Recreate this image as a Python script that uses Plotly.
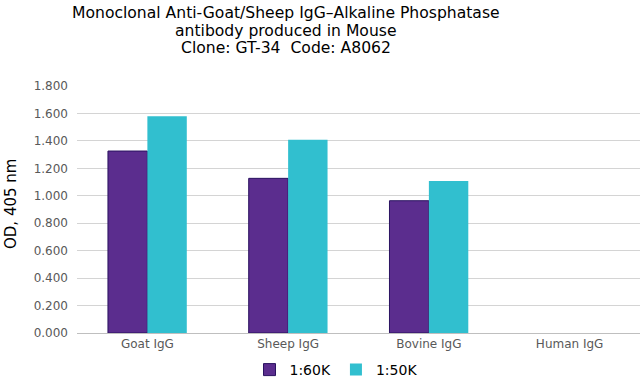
import plotly.graph_objects as go

categories = ["Goat IgG", "Sheep IgG", "Bovine IgG", "Human IgG"]
series_names = ["1:60K", "1:50K"]
values_60k = [1.326, 1.127, 0.964, 0.0]
values_50k = [1.580, 1.408, 1.108, 0.0]
y_ticks = [0, 0.2, 0.4, 0.6, 0.8, 1.0, 1.2, 1.4, 1.6, 1.8]
y_tick_labels = ["0.000", "0.200", "0.400", "0.600", "0.800", "1.000", "1.200", "1.400", "1.600", "1.800"]
title_lines = ["Monoclonal Anti-Goat/Sheep IgG–Alkaline Phosphatase",
               "antibody produced in Mouse",
               "Clone: GT-34\u00a0 Code: A8062"]
y_title = "OD, 405 nm"

W, H = 640, 380
L, R, T, B = 77, 0, 86, 47
pw, ph = W - L - R, H - T - B

def px_x(px):
    return (px - L) / pw

def px_y(py):
    return (H - B - py) / ph

fig = go.Figure()
fig.add_trace(go.Bar(x=categories, y=values_60k, name=series_names[0],
                     marker=dict(color="#5B2D8E",
                                 line=dict(color="#2A1260",
                                           width=[1 if v > 0 else 0 for v in values_60k]))))
fig.add_trace(go.Bar(x=categories, y=values_50k, name=series_names[1],
                     marker=dict(color="#31BFCF", line=dict(width=0))))

annotations = []
for i, (line, py) in enumerate(zip(title_lines, [13, 31, 48])):
    annotations.append(dict(text=line, xref="paper", yref="paper", x=px_x(286), y=px_y(py),
                            xanchor="center", yanchor="middle", showarrow=False,
                            font=dict(size=15.6, color="#000000")))
annotations.append(dict(text=y_title, xref="paper", yref="paper", x=px_x(11), y=px_y(204),
                        xanchor="center", yanchor="middle", showarrow=False, textangle=-90,
                        font=dict(size=15, color="#000000")))

fig.update_layout(
    width=W, height=H,
    margin=dict(l=L, r=R, t=T, b=B, autoexpand=False),
    paper_bgcolor="white", plot_bgcolor="white",
    font=dict(family="DejaVu Sans, Verdana, sans-serif", color="#595959"),
    barmode="group", bargap=0.44, bargroupgap=0,
    showlegend=True,
    legend=dict(orientation="h", x=px_x(336), xanchor="center", y=px_y(370), yanchor="middle",
                font=dict(size=14, color="#000000"), itemwidth=30, traceorder="normal",
                bgcolor="rgba(0,0,0,0)"),
    xaxis=dict(showgrid=False, showline=True, linecolor="#BFBFBF", linewidth=1, automargin=False,
               ticks="", tickfont=dict(size=12, color="#595959")),
    yaxis=dict(range=[0, 1.8], tickvals=y_ticks, ticktext=y_tick_labels, automargin=False,
               showgrid=True, gridcolor="#D4D4D4", gridwidth=1, zeroline=False,
               showline=False, ticks="", ticklabelstandoff=8,
               tickfont=dict(size=12, color="#595959")),
    annotations=annotations,
)

fig.write_html("out.html", config={"displayModeBar": False},
               post_script="document.body.style.margin='0';document.body.style.overflow='hidden';")
